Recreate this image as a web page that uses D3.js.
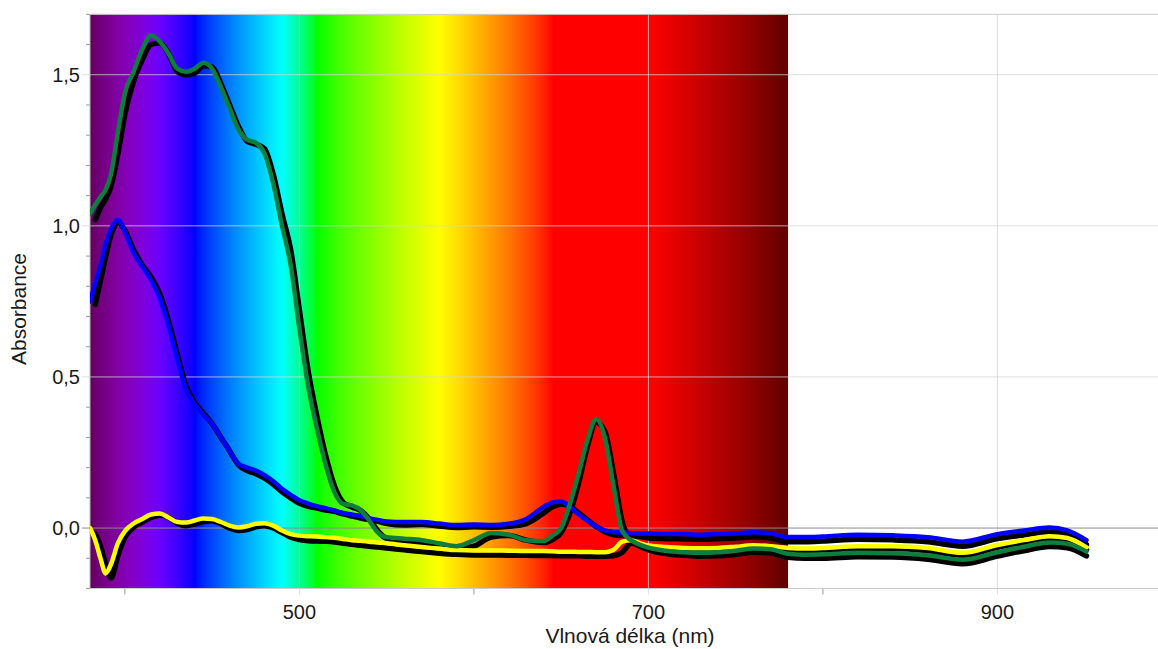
<!DOCTYPE html>
<html><head><meta charset="utf-8">
<script src="https://cdn.jsdelivr.net/npm/d3@7"></script>
<style>html,body{margin:0;padding:0;background:#fff;}svg{display:block;font-family:"Liberation Sans",Arial,sans-serif;}</style>
</head><body>
<svg id="chart" width="1158" height="649"></svg>
<script>
// ---- data ----
const wavelengths = [380,383,386,389,392,396,400,405,410,415,420,425,430,435,440,445,450,455,460,465,470,475,480,485,490,495,500,505,510,515,520,525,530,535,540,545,550,560,570,580,590,600,610,620,630,640,645,650,655,660,665,670,675,680,685,690,695,700,710,720,730,740,750,760,770,780,790,800,820,840,860,880,900,915,930,940,951];

const greenValues = [1.04,1.07,1.095,1.12,1.17,1.31,1.44,1.51,1.585,1.63,1.61,1.57,1.52,1.51,1.52,1.54,1.52,1.46,1.39,1.32,1.285,1.275,1.24,1.14,1.0,0.87,0.66,0.47,0.33,0.21,0.12,0.08,0.075,0.06,0.025,-0.015,-0.03,-0.035,-0.04,-0.05,-0.06,-0.04,-0.016,-0.022,-0.04,-0.043,-0.025,0.0,0.08,0.18,0.29,0.36,0.30,0.14,-0.01,-0.04,-0.055,-0.065,-0.075,-0.08,-0.082,-0.08,-0.075,-0.068,-0.07,-0.085,-0.088,-0.087,-0.082,-0.083,-0.09,-0.105,-0.08,-0.062,-0.048,-0.052,-0.078];
const greenBlackValues = [null,1.02,1.06,1.09,1.13,1.24,1.37,1.48,1.55,1.60,1.605,1.57,1.51,1.50,1.505,1.53,1.525,1.47,1.40,1.33,1.28,1.27,1.255,1.17,1.04,0.92,0.72,0.52,0.37,0.24,0.14,0.085,0.07,0.058,0.03,-0.01,-0.035,-0.045,-0.05,-0.058,-0.068,-0.06,-0.03,-0.025,-0.04,-0.048,-0.038,-0.015,0.05,0.15,0.27,0.35,0.32,0.18,0.02,-0.04,-0.06,-0.072,-0.085,-0.09,-0.093,-0.092,-0.087,-0.08,-0.082,-0.097,-0.1,-0.1,-0.095,-0.096,-0.103,-0.118,-0.093,-0.075,-0.061,-0.065,-0.092];

const blueValues = [0.75,0.81,0.87,0.94,0.99,1.02,0.98,0.91,0.865,0.82,0.76,0.67,0.56,0.46,0.41,0.375,0.345,0.30,0.255,0.213,0.20,0.19,0.175,0.155,0.13,0.11,0.092,0.081,0.072,0.066,0.058,0.05,0.045,0.04,0.033,0.027,0.022,0.02,0.02,0.015,0.01,0.012,0.01,0.014,0.03,0.07,0.085,0.088,0.07,0.045,0.025,0.005,-0.008,-0.013,-0.015,-0.017,-0.018,-0.018,-0.02,-0.02,-0.022,-0.02,-0.018,-0.014,-0.018,-0.03,-0.03,-0.028,-0.022,-0.024,-0.03,-0.045,-0.02,-0.008,0.002,-0.008,-0.04];
const blueBlackValues = [null,0.74,0.82,0.90,0.97,1.01,0.985,0.92,0.87,0.83,0.775,0.685,0.575,0.47,0.415,0.38,0.345,0.30,0.255,0.21,0.19,0.18,0.165,0.145,0.12,0.10,0.082,0.072,0.066,0.06,0.055,0.047,0.04,0.033,0.028,0.022,0.015,0.01,0.012,0.007,0.002,0.004,0.003,0.006,0.015,0.05,0.07,0.08,0.072,0.05,0.027,0.005,-0.012,-0.022,-0.025,-0.027,-0.028,-0.033,-0.035,-0.036,-0.037,-0.035,-0.033,-0.029,-0.033,-0.045,-0.045,-0.043,-0.037,-0.039,-0.045,-0.06,-0.035,-0.023,-0.013,-0.023,-0.055];

const yellowValues = [0.0,-0.04,-0.10,-0.15,-0.12,-0.05,-0.01,0.015,0.03,0.045,0.048,0.035,0.02,0.018,0.025,0.032,0.03,0.02,0.008,0.002,0.006,0.014,0.016,0.008,-0.008,-0.02,-0.025,-0.027,-0.028,-0.03,-0.032,-0.036,-0.04,-0.042,-0.045,-0.048,-0.05,-0.057,-0.063,-0.068,-0.073,-0.074,-0.074,-0.075,-0.076,-0.076,-0.077,-0.078,-0.078,-0.079,-0.079,-0.08,-0.08,-0.072,-0.045,-0.04,-0.05,-0.058,-0.063,-0.066,-0.067,-0.066,-0.062,-0.057,-0.06,-0.066,-0.068,-0.066,-0.06,-0.06,-0.066,-0.082,-0.056,-0.04,-0.027,-0.033,-0.064];
const yellowBlackValues = [null,-0.02,-0.06,-0.12,-0.165,-0.09,-0.03,0.003,0.02,0.035,0.042,0.035,0.016,0.008,0.014,0.022,0.024,0.014,0.0,-0.008,-0.005,0.004,0.008,0.0,-0.015,-0.03,-0.038,-0.042,-0.043,-0.044,-0.046,-0.05,-0.054,-0.057,-0.06,-0.063,-0.066,-0.072,-0.078,-0.083,-0.087,-0.089,-0.089,-0.09,-0.09,-0.091,-0.091,-0.092,-0.092,-0.092,-0.093,-0.093,-0.093,-0.092,-0.08,-0.05,-0.055,-0.065,-0.07,-0.074,-0.075,-0.074,-0.07,-0.065,-0.068,-0.074,-0.076,-0.074,-0.068,-0.068,-0.075,-0.09,-0.064,-0.048,-0.035,-0.041,-0.072];

const xMajorTicks = [500, 700, 900];
const xMinorTicks = [400, 600, 800];
const yMajorTicks = [0.0, 0.5, 1.0, 1.5];
const yMinorTicks = [-0.2,-0.1,0.1,0.2,0.3,0.4,0.6,0.7,0.8,0.9,1.1,1.2,1.3,1.4,1.6,1.7];
const xTitle = "Vlnová délka (nm)";
const yTitle = "Absorbance";
const spectrumRange = [380, 780];

// ---- layout ----
const svg = d3.select("#chart");
const L = 90, R = 1158, T = 14.3, B = 588.5;
const x = d3.scaleLinear().domain([380, 992]).range([L, R]);
const y = d3.scaleLinear().domain([-0.2, 1.7]).range([B, T]);
const fmt = v => d3.format(".1f")(v).replace(".", ",");

// spectrum colour (Bruton wavelength -> RGB)
function specColor(w) {
  let r=0,g=0,b=0;
  if (w < 440) { r = -(w-440)/60; b = 1; }
  else if (w < 490) { g = (w-440)/50; b = 1; }
  else if (w < 510) { g = 1; b = -(w-510)/20; }
  else if (w < 580) { r = (w-510)/70; g = 1; }
  else if (w < 645) { r = 1; g = -(w-645)/65; }
  else { r = 1; }
  let f = 1;
  if (w < 420) f = 0.3 + 0.7*(w-380)/40;
  else if (w > 700) f = 0.3 + 0.7*(780-w)/80;
  const c = v => v === 0 ? 0 : Math.round(255*Math.pow(v*f, 0.8));
  return `rgb(${c(r)},${c(g)},${c(b)})`;
}
const defs = svg.append("defs");
const grad = defs.append("linearGradient").attr("id","spec").attr("x1","0%").attr("x2","100%").attr("y1","0%").attr("y2","0%");
for (let w = spectrumRange[0]; w <= spectrumRange[1]; w += 2) {
  grad.append("stop").attr("offset", ((w-spectrumRange[0])/(spectrumRange[1]-spectrumRange[0])*100)+"%").attr("stop-color", specColor(w));
}
defs.append("clipPath").attr("id","clip").append("rect").attr("x",L).attr("y",T-3).attr("width",R-L).attr("height",B-T+6);

svg.append("rect").attr("x", x(spectrumRange[0])).attr("y", T).attr("width", x(spectrumRange[1])-x(spectrumRange[0])).attr("height", B-T).attr("fill","url(#spec)");

// grid
const g = svg.append("g");
g.selectAll(".vg").data(xMajorTicks).join("line").attr("x1",d=>x(d)).attr("x2",d=>x(d)).attr("y1",T).attr("y2",B+6).attr("stroke","#d4d4d4").attr("stroke-opacity",0.75);
g.selectAll(".xm").data(xMinorTicks).join("line").attr("x1",d=>x(d)).attr("x2",d=>x(d)).attr("y1",B).attr("y2",B+6).attr("stroke","#999");
g.selectAll(".hg").data(yMajorTicks.filter(d=>d!==0)).join("line").attr("x1",L-8).attr("x2",R).attr("y1",d=>y(d)).attr("y2",d=>y(d)).attr("stroke","#d4d4d4").attr("stroke-opacity",0.75);
g.selectAll(".ym").data(yMinorTicks).join("line").attr("x1",L-4).attr("x2",L).attr("y1",d=>y(d)).attr("y2",d=>y(d)).attr("stroke","#999");
g.append("line").attr("x1",L).attr("x2",R).attr("y1",T).attr("y2",T).attr("stroke","#ccc");
g.append("line").attr("x1",L).attr("x2",R).attr("y1",B).attr("y2",B).attr("stroke","#ccc");
g.append("line").attr("x1",L).attr("x2",L).attr("y1",T).attr("y2",B).attr("stroke","#bbb");
g.append("line").attr("x1",L-8).attr("x2",R).attr("y1",y(0)).attr("y2",y(0)).attr("stroke","#8c8c8c");

// lines
const line = d3.line().defined(d => d[1] != null).x(d => x(d[0])).y(d => y(d[1])).curve(d3.curveMonotoneX);
const pairs = vals => wavelengths.map((w,i) => [w, vals[i]]);
const lg = svg.append("g").attr("clip-path","url(#clip)").attr("fill","none").attr("stroke-linejoin","round").attr("stroke-linecap","round");
[yellowBlackValues, blueBlackValues, greenBlackValues].forEach(v => {
  lg.append("path").attr("d", line(pairs(v))).attr("stroke","#000").attr("stroke-width",5.5);
});
[[yellowValues,"#ffff00"],[blueValues,"#0000ff"],[greenValues,"#0e7d3d"]].forEach(([v,c]) => {
  lg.append("path").attr("d", line(pairs(v))).attr("stroke",c).attr("stroke-width",4.5);
});

// labels
const txt = "#1a1a1a";
svg.selectAll(".xl").data(xMajorTicks).join("text").attr("x",d=>x(d)).attr("y",619).attr("text-anchor","middle").attr("font-size",20).attr("fill",txt).text(d=>d);
svg.selectAll(".yl").data(yMajorTicks).join("text").attr("x",80).attr("y",d=>y(d)).attr("dy","0.35em").attr("text-anchor","end").attr("font-size",20).attr("fill",txt).text(d=>fmt(d));
svg.append("text").attr("x",630).attr("y",643).attr("text-anchor","middle").attr("font-size",21).attr("fill",txt).text(xTitle);
svg.append("text").attr("transform","translate(26,309) rotate(-90)").attr("text-anchor","middle").attr("font-size",21).attr("fill",txt).text(yTitle);
</script>
</body></html>
